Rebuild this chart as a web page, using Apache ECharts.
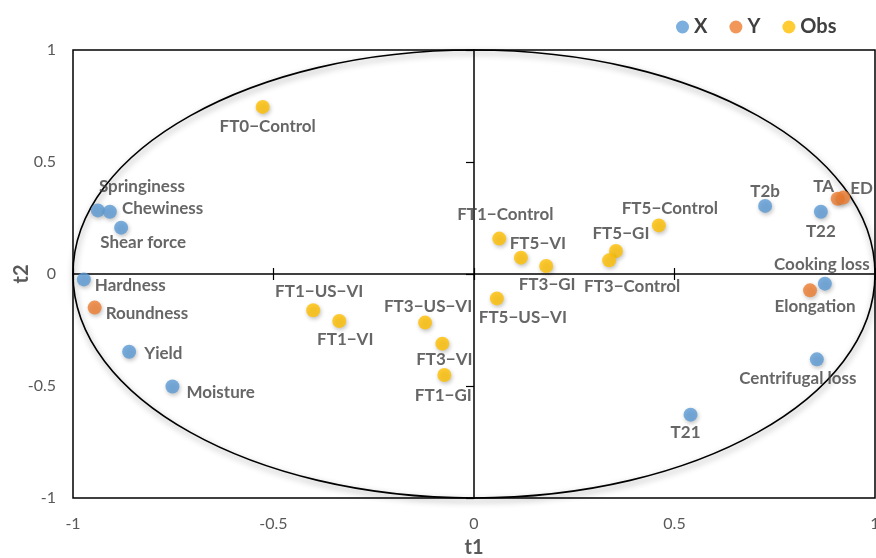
<!DOCTYPE html>
<html>
<head>
<meta charset="utf-8">
<script src="https://cdn.jsdelivr.net/npm/echarts@6/dist/echarts.min.js"></script>
<style>
  html, body { margin: 0; padding: 0; background: #fff; }
  #chart { width: 876px; height: 558px; }
</style>
</head>
<body>
<div id="chart"></div>
<script>
// Loadings (X, Y) and observation scores on the t1 / t2 components
const xNames = ['Springiness', 'Chewiness', 'Shear force', 'Hardness', 'Yield', 'Moisture',
  'T2b', 'T22', 'Cooking loss', 'Centrifugal loss', 'T21'];
const xT1 = [-0.938, -0.908, -0.880, -0.973, -0.860, -0.752, 0.726, 0.865, 0.875, 0.855, 0.540];
const xT2 = [0.284, 0.278, 0.207, -0.024, -0.347, -0.502, 0.304, 0.278, -0.043, -0.381, -0.628];

const yNames = ['Roundness', 'TA', 'ED', 'Elongation'];
const yT1 = [-0.946, 0.907, 0.921, 0.838];
const yT2 = [-0.150, 0.336, 0.341, -0.073];

const obsNames = ['FT0−Control', 'FT1−Control', 'FT5−VI', 'FT3−GI', 'FT5−US−VI', 'FT1−US−VI',
  'FT1−VI', 'FT3−US−VI', 'FT3−VI', 'FT1−GI', 'FT5−Control', 'FT5−GI', 'FT3−Control'];
const obsT1 = [-0.527, 0.063, 0.117, 0.180, 0.057, -0.401, -0.336, -0.122, -0.079, -0.074, 0.461, 0.354, 0.337];
const obsT2 = [0.746, 0.158, 0.073, 0.036, -0.109, -0.162, -0.210, -0.217, -0.311, -0.451, 0.217, 0.103, 0.061];

const axisTicks = [-1, -0.5, 0, 0.5, 1];

// Where each point's label sits relative to its marker
const labelPlace = {
  'Springiness': ['top', [44, -3]],
  'Chewiness': ['right', [0, -3]],
  'Shear force': ['bottom', [22, -6]],
  'Hardness': ['right', [-1, 6]],
  'Yield': ['right', [3, 2]],
  'Moisture': ['right', [2, 6]],
  'T2b': ['top', [0, 6]],
  'T22': ['bottom', [0, -1]],
  'Cooking loss': ['top', [-3, 1]],
  'Centrifugal loss': ['bottom', [-19, -1]],
  'T21': ['bottom', [-5, -3]],
  'Roundness': ['right', [-1, 6]],
  'TA': ['top', [-14, 8]],
  'ED': ['right', [-5, -9]],
  'Elongation': ['bottom', [5, -4]],
  'FT0−Control': ['bottom', [5, -1]],
  'FT1−Control': ['top', [6, -4]],
  'FT5−VI': ['top', [17, 6]],
  'FT3−GI': ['bottom', [1, -2]],
  'FT5−US−VI': ['bottom', [26, -1]],
  'FT1−US−VI': ['top', [6, 2]],
  'FT1−VI': ['bottom', [6, -2]],
  'FT3−US−VI': ['top', [3, 4]],
  'FT3−VI': ['bottom', [2, -5]],
  'FT1−GI': ['bottom', [-1, 0]],
  'FT5−Control': ['top', [11, 4]],
  'FT5−GI': ['top', [5, 3]],
  'FT3−Control': ['bottom', [23, 6]]
};

const FONT = 'Lato, "Open Sans", sans-serif';

function buildPoints(names, t1, t2) {
  return names.map(function (n, i) {
    const p = labelPlace[n] || ['right', [0, 0]];
    return { name: n, value: [t1[i], t2[i]], label: { position: p[0], offset: p[1] } };
  });
}

function scatterSeries(name, color, data) {
  return {
    name: name,
    type: 'scatter',
    symbolSize: 14,
    z: 5,
    itemStyle: {
      color: color,
      shadowColor: 'rgba(0,0,0,0.3)',
      shadowBlur: 4,
      shadowOffsetX: 1,
      shadowOffsetY: 2
    },
    label: {
      show: true,
      formatter: '{b}',
      color: '#404040',
      fontFamily: FONT,
      fontWeight: 'bold',
      fontSize: 17,
      distance: 5
    },
    emphasis: { disabled: true },
    data: data
  };
}

const tickLabelStyle = { color: '#595959', fontFamily: FONT, fontSize: 16 };

function crossAxis(extra) {
  return Object.assign({
    type: 'value', min: axisTicks[0], max: axisTicks[axisTicks.length - 1], interval: 0.5,
    axisLabel: { show: false },
    splitLine: { show: false }
  }, extra);
}

const chart = echarts.init(document.getElementById('chart'), null, { renderer: 'canvas' });

chart.setOption({
  animation: false,
  backgroundColor: '#fff',
  grid: {
    left: 73, top: 50, width: 802, height: 448,
    outerBoundsMode: 'none',
    containLabel: false,
    show: true, borderColor: '#000', borderWidth: 1.5, backgroundColor: 'transparent'
  },
  legend: {
    data: ['X', 'Y', 'Obs'],
    left: 671, top: 12,
    icon: 'circle',
    itemWidth: 13, itemHeight: 13, itemGap: 22,
    textStyle: { color: '#404040', fontFamily: FONT, fontWeight: 'bold', fontSize: 20 }
  },
  xAxis: [
    {
      type: 'value', min: -1, max: 1, interval: 0.5, position: 'bottom',
      axisLine: { show: false, onZero: false },
      axisTick: { show: false },
      splitLine: { show: false },
      axisLabel: Object.assign({ margin: 18 }, tickLabelStyle),
      name: 't1', nameLocation: 'middle', nameGap: 40, nameMoveOverlap: false,
      nameTextStyle: { color: '#595959', fontFamily: FONT, fontWeight: 'bold', fontSize: 20 }
    },
    crossAxis({
      axisLine: { show: true, onZero: true, onZeroAxisIndex: 0, lineStyle: { color: '#000', width: 1.5 } },
      axisTick: { show: true, inside: true, length: 6, lineStyle: { color: '#000', width: 1.2 } }
    }),
    crossAxis({
      axisLine: { show: false, onZero: true, onZeroAxisIndex: 0 },
      axisTick: { show: true, inside: false, length: 6, lineStyle: { color: '#000', width: 1.2 } }
    })
  ],
  yAxis: [
    {
      type: 'value', min: -1, max: 1, interval: 0.5, position: 'left',
      axisLine: { show: false, onZero: false },
      axisTick: { show: false },
      splitLine: { show: false },
      axisLabel: Object.assign({ margin: 17 }, tickLabelStyle),
      name: 't2', nameLocation: 'middle', nameGap: 41, nameMoveOverlap: false,
      nameTextStyle: { color: '#595959', fontFamily: FONT, fontWeight: 'bold', fontSize: 20 }
    },
    crossAxis({
      axisLine: { show: true, onZero: true, onZeroAxisIndex: 0, lineStyle: { color: '#000', width: 1.5 } },
      axisTick: { show: true, inside: true, length: 8, lineStyle: { color: '#000', width: 1.2 } }
    })
  ],
  series: [
    {
      // unit correlation circle
      type: 'custom',
      name: 'circle',
      xAxisIndex: 0, yAxisIndex: 0,
      z: 1,
      silent: true,
      clip: false,
      data: [[0, 0]],
      renderItem: function (params, api) {
        const c = api.coord([0, 0]);
        const p = api.coord([1, 1]);
        return {
          type: 'ellipse',
          shape: { cx: c[0], cy: c[1], rx: p[0] - c[0], ry: c[1] - p[1] },
          style: {
            fill: null, stroke: '#000', lineWidth: 1.6,
            shadowColor: 'rgba(0,0,0,0.45)', shadowBlur: 6, shadowOffsetX: 1, shadowOffsetY: 3
          }
        };
      }
    },
    scatterSeries('X', '#5B9BD5', buildPoints(xNames, xT1, xT2)),
    scatterSeries('Y', '#ED7D31', buildPoints(yNames, yT1, yT2)),
    scatterSeries('Obs', '#FFC000', buildPoints(obsNames, obsT1, obsT2))
  ]
});
</script>
</body>
</html>
